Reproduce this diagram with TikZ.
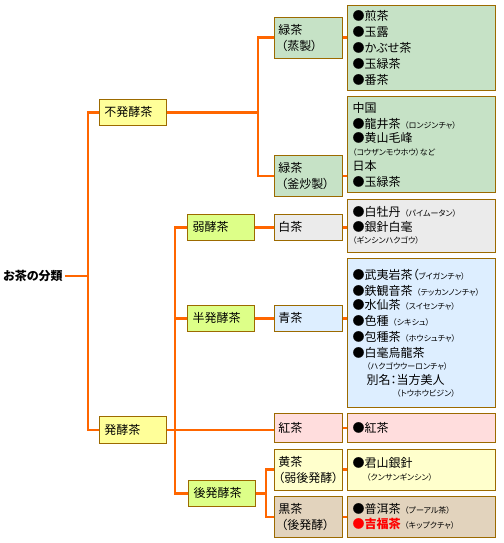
\documentclass[tikz,border=0pt]{standalone}
\usepackage{fontspec}
\setmainfont[RawFeature=+palt]{Noto Sans CJK JP}
\definecolor{treeline}{HTML}{FF6600}
\definecolor{boxborder}{HTML}{9C6A00}
\definecolor{kindfill}{HTML}{FFFF99}
\definecolor{subfill}{HTML}{DDFF88}
\definecolor{greenfill}{HTML}{C6E2C6}
\definecolor{whitefill}{HTML}{EBEBEB}
\definecolor{bluefill}{HTML}{DDEEFF}
\definecolor{redfill}{HTML}{FFDDDD}
\definecolor{yellowfill}{HTML}{FFFFCC}
\definecolor{brownfill}{HTML}{E2D3BD}
\newcommand{\yomi}[1]{{\fontsize{8}{9}\selectfont #1}}
\begin{document}
\begin{tikzpicture}[x=1pt,y=-1pt,
            box/.style={draw=boxborder, line width=0.8pt, align=left, inner xsep=5pt, inner ysep=0pt, font=\fontsize{12}{16}\selectfont},
            kind/.style={box, fill=kindfill, text width=57pt, minimum height=26pt},
            sub/.style={box, fill=subfill, text width=57pt, minimum height=26pt},
            tea/.style={box, inner xsep=4pt, text width=60pt},
            info/.style={box, text width=138pt},
            link/.style={draw=treeline, line width=2.6pt}]
            \useasboundingbox (0,0) rectangle (503,543);
            \node[anchor=west, inner sep=2pt, font=\bfseries\fontsize{12}{14}\selectfont] (root) at (1,276) {お茶の分類};
            \node[kind] (fuhakko) at (132.8,112.3) {不発酵茶};
            \node[kind, minimum height=27pt] (hakko) at (132.8,430) {発酵茶};
            \node[sub] (jakko) at (221,227.3) {弱酵茶};
            \node[sub] (hanhakko) at (221,318.3) {半発酵茶};
            \node[sub] (gohakko) at (222,493.3) {後発酵茶};
            \node[tea, fill=greenfill, minimum height=41pt] (ryoku1) at (308.3,37.8) {緑茶\\\hspace*{3pt}（蒸製）};
            \node[tea, fill=greenfill, minimum height=41.7pt] (ryoku2) at (308.3,175.8) {緑茶\\\hspace*{3pt}（釜炒製）};
            \node[tea, fill=whitefill, minimum height=26pt] (haku) at (308.3,227.3) {白茶};
            \node[tea, fill=bluefill, minimum height=25.3pt] (sei) at (308.3,318.3) {青茶};
            \node[tea, fill=redfill, minimum height=29.4pt] (ko) at (308.3,428) {紅茶};
            \node[tea, fill=yellowfill, minimum height=40.7pt] (ki) at (308.3,469.7) {黄茶\\（弱後発酵）};
            \node[tea, fill=brownfill, minimum height=41.4pt] (koku) at (308.3,517) {黒茶\\\hspace*{3pt}（後発酵）};
            \node[info, fill=greenfill, minimum height=84.7pt] (i1) at (421.7,47.7) {●煎茶\\●玉露\\●かぶせ茶\\●玉緑茶\\●番茶};
            \node[info, fill=greenfill, minimum height=96pt] (i2) at (421.7,144.7) {中国\\●龍井茶 \yomi{（ロンジンチャ）}\\[-2pt]●黄山毛峰\\[-3pt]\yomi{（コウザンモウホウ）など}\\[-1pt]日本\\●玉緑茶};
            \node[info, fill=whitefill, minimum height=53.3pt] (i3) at (421.7,225.7) {●白牡丹 \yomi{（パイムータン）}\\[-1pt]●銀針白毫\\[-4pt]\yomi{（ギンシンハクゴウ）}};
            \node[info, fill=bluefill, minimum height=149.4pt] (i4) at (421.7,333) {●武夷岩茶（\yomi{ブイガンチャ）}\\●鉄観音茶 \yomi{（テッカンノンチャ）}\\[-2pt]●水仙茶 \yomi{（スイセンチャ）}\\●色種 \yomi{（シキシュ）}\\●包種茶 \yomi{（ホウシュチャ）}\\●白毫烏龍茶\\[-4pt]\hspace*{14pt}\yomi{（ハクゴウウーロンチャ）}\\[-1pt]\hspace*{14pt}別名：当方美人\\[-4pt]\hspace*{44pt}\yomi{（トウホウビジン）}};
            \node[info, fill=redfill, minimum height=29.4pt] (i5) at (421.7,428) {●紅茶};
            \node[info, fill=yellowfill, minimum height=40.7pt] (i6) at (421.7,469.7) {●君山銀針\\[-3pt]\hspace*{14pt}\yomi{（クンサンギンシン）}};
            \node[info, fill=brownfill, minimum height=41.4pt] (i7) at (421.7,517) {●普洱茶 \yomi{（プーアル茶）}\\[-1pt]\textcolor{red}{\bfseries ●吉福茶} \yomi{（キップクチャ）}};
            \coordinate (j0) at (88,276);
            \coordinate (j1) at (258,112.3);
            \coordinate (j2) at (175,430);
            \coordinate (j3) at (266,493.3);
            \draw[link] (root) -- (j0);
            \draw[link] (fuhakko.west) -| (j0);
            \draw[link] (hakko.west) -| (j0);
            \draw[link] (fuhakko.east) -- (j1);
            \draw[link] (ryoku1.west) -| (j1);
            \draw[link] (ryoku2.west) -| (j1);
            \draw[link] (hakko.east) -- (hakko.east -| ko.west);
            \draw[link] (jakko.west) -| (j2);
            \draw[link] (hanhakko.west) -| (j2);
            \draw[link] (gohakko.west) -| (j2);
            \draw[link] (jakko.east) -- (haku.west);
            \draw[link] (hanhakko.east) -- (sei.west);
            \draw[link] (gohakko.east) -- (j3);
            \draw[link] (ki.west) -| (j3);
            \draw[link] (koku.west) -| (j3);
            \foreach \a/\b in {ryoku1/i1, ryoku2/i2, haku/i3, sei/i4, ko/i5, ki/i6, koku/i7}
                \draw[link] (\a.east) -- (\a.east -| \b.west);
        \end{tikzpicture}
\end{document}
